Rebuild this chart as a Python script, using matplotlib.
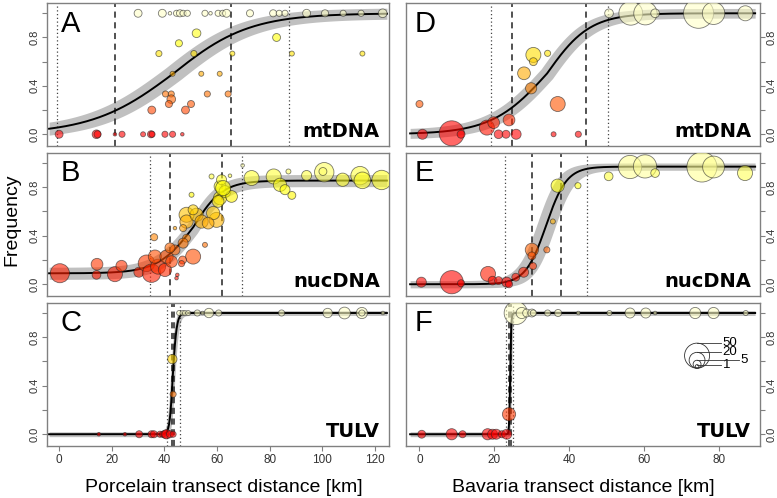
import numpy as np
import matplotlib.pyplot as plt
from matplotlib.colors import hsv_to_rgb

# ---- panel A: Porcelain, mtDNA ----
a_x = [30.0, 39.2, 42.1, 44.6, 45.9, 47.1, 48.7, 55.4, 57.5, 60.4, 62.1, 63.6, 72.5,
       81.3, 83.6, 85.8, 94.0, 101.0, 107.9, 114.7, 122.9,
       52.2, 82.6, 45.5, 37.9, 51.2, 65.8, 88.4, 115.2, 43.1, 54.0, 61.0,
       40.4, 42.6, 56.3, 64.2, 42.6, 41.7, 50.1, 35.2, 48.0,
       0.0, 14.2, 14.6, 21.2, 23.9, 31.9, 34.9, 35.3, 40.2, 43.1, 46.8]
a_y = [1.0] * 21 + [0.835, 0.80, 0.752, 0.667, 0.667, 0.667, 0.667, 0.667, 0.5, 0.5, 0.5,
                    0.333, 0.333, 0.333, 0.333, 0.29, 0.25, 0.25, 0.2, 0.2] + [0.0] * 11
a_n = [5, 5, 1, 3, 4, 3, 3, 3, 1, 3, 3, 5, 4, 4, 3, 3, 5, 4, 3, 3, 6,
       6, 5, 4, 3, 3, 2, 2, 2, 2, 2, 2, 3, 3, 3, 3, 6, 4, 4, 5, 5,
       5, 6, 4, 1, 3, 2, 4, 3, 3, 3, 1]

# ---- panel B: Porcelain, nucDNA ----
b_x = [0.3, 14.4, 14.2, 21.2, 23.7, 30.3, 36.1, 33.2, 35.1, 37.6, 36.4, 40.2, 40.8, 42.7,
       44.0, 42.1, 44.9, 44.6, 48.4, 50.9, 55.4, 46.9, 47.1, 46.5, 48.4, 48.4, 52.2, 50.9,
       54.1, 59.8, 58.5, 56.6, 47.1, 44.0, 50.3, 61.1, 61.1, 63.0, 65.5, 61.7, 57.9,
       64.9, 62.3, 60.4, 73.1, 69.7, 81.5, 83.9, 85.8, 88.4, 87.1, 94.0, 100.7, 100.2,
       107.7, 114.3, 115.2, 122.5]
b_y = [0.091, 0.165, 0.077, 0.083, 0.151, 0.099, 0.388, 0.173, 0.091, 0.145, 0.228, 0.118,
       0.228, 0.187, 0.283, 0.30, 0.077, 0.05, 0.38, 0.228, 0.325, 0.20, 0.339, 0.17, 0.573,
       0.517, 0.573, 0.614, 0.517, 0.531, 0.587, 0.504, 0.463, 0.463, 0.738, 0.71, 0.807,
       0.765, 0.724, 0.862, 0.889, 0.895, 0.793, 0.683, 0.876, 0.98, 0.889, 0.82, 0.78,
       0.733, 0.93, 0.897, 0.924, 0.93, 0.862, 0.896, 0.857, 0.86]
b_n = [29, 11, 6, 18, 10, 8, 4, 22, 27, 18, 14, 14, 14, 11, 8, 8, 1, 1, 5, 18, 2, 5, 8, 3,
       18, 14, 14, 8, 14, 18, 14, 11, 4, 1, 2, 14, 11, 11, 11, 8, 2, 1, 18, 11, 18, 1,
       18, 14, 8, 5, 2, 8, 30, 5, 14, 27, 22, 30]

# ---- panel C: Porcelain, TULV ----
c_x = [15.1, 25.0, 30.4, 35.1, 36.0, 38.3, 39.3, 40.2, 40.8, 42.1, 43.3, 43.0, 43.3,
       45.6, 46.9, 47.8, 49.0, 52.5, 54.5, 56.9, 60.6, 84.5, 102.0, 108.4, 115.0, 115.0, 123.0]
c_y = [0.0] * 11 + [0.62, 0.33] + [1.0] * 14
c_n = [1, 1, 4, 4, 4, 3, 3, 5, 7, 4, 3, 7, 3, 2, 2, 2, 2, 3, 1, 7, 3, 3, 7, 11, 10, 3, 1]

# ---- panel D: Bavaria, mtDNA ----
d_x = [0.8, 0.0, 8.6, 11.1, 18.0, 19.8, 21.1, 23.1, 23.9, 25.8, 29.8, 27.9, 30.4, 30.4,
       34.2, 36.9, 35.8, 42.4, 50.6, 56.4, 60.3, 62.9, 74.5, 78.5, 87.0]
d_y = [0.0, 0.25, 0.008, 0.0, 0.055, 0.096, 0.0, 0.0, 0.118, 0.0, 0.38, 0.504, 0.656, 0.6,
       0.669, 0.25, 0.0, 0.0, 1.0, 1.0, 1.0, 1.0, 1.0, 1.0, 1.0]
d_n = [8, 4, 50, 5, 18, 11, 6, 5, 11, 8, 10, 13, 18, 5, 3, 18, 2, 3, 6, 45, 43, 6, 72, 40, 18]

# ---- panel E: Bavaria, nucDNA ----
e_x = [0.5, 8.6, 11.1, 18.3, 19.5, 21.1, 23.3, 23.9, 25.7, 27.8, 30.3, 30.0, 30.0, 34.0,
       35.6, 36.9, 42.3, 50.5, 56.2, 60.2, 62.9, 75.4, 78.5, 86.9]
e_y = [0.017, 0.017, 0.008, 0.085, 0.03, 0.03, 0.017, 0.0, 0.058, 0.099, 0.15, 0.284, 0.234,
       0.284, 0.518, 0.813, 0.813, 0.89, 0.967, 0.972, 0.917, 0.967, 0.967, 0.917]
e_n = [8, 43, 4, 18, 6, 5, 8, 4, 5, 8, 4, 14, 5, 3, 2, 14, 3, 6, 43, 43, 6, 72, 38, 18]

# ---- panel F: Bavaria, TULV ----
f_x = [0.6, 8.6, 11.5, 18.2, 19.5, 20.5, 22.0, 23.3, 23.9,
       25.7, 27.3, 28.6, 30.0, 30.4, 34.2, 37.0, 42.4, 50.7, 56.2, 60.4, 62.9, 73.6, 78.5, 87.1]
f_y = [0.0] * 8 + [0.165] + [1.0] * 15
f_n = [5, 10, 4, 10, 8, 8, 4, 8, 14, 43, 10, 5, 5, 3, 3, 4, 1, 2, 8, 8, 1, 10, 10, 2]

# cline fits: centre, left width, right width, min, max
clines = {
    'A': (43.3, 62.0, 58.0, 0.0, 1.0),
    'B': (51.0, 27.0, 22.0, 0.09, 0.855),
    'C': (43.2, 2.4, 3.0, 0.0, 1.0),
    'D': (34.0, 29.5, 23.0, 0.0, 1.0),
    'E': (33.8, 11.0, 11.0, 0.0, 0.97),
    'F': (24.2, 0.5, 0.6, 0.0, 1.0),
}
# band: centre uncertainty, vertical half-width
bands = {'A': (3.0, 0.045), 'B': (1.5, 0.05), 'C': (0.8, 0.02),
         'D': (1.5, 0.04), 'E': (2.2, 0.03), 'F': (0.4, 0.02)}
dashed = {'A': [21.3, 65.2], 'B': [42.3, 61.7], 'C': [42.8, 43.8],
          'D': [24.8, 44.5], 'E': [30.0, 37.7], 'F': [24.0, 24.4]}
dotted = {'A': [-0.9, 87.2], 'B': [34.7, 69.6], 'C': [40.9, 46.1],
          'D': [19.1, 50.3], 'E': [22.7, 44.8], 'F': [23.0, 25.0]}
markers = {'A': 'mtDNA', 'B': 'nucDNA', 'C': 'TULV', 'D': 'mtDNA', 'E': 'nucDNA', 'F': 'TULV'}
points = {'A': (a_x, a_y, a_n), 'B': (b_x, b_y, b_n), 'C': (c_x, c_y, c_n),
          'D': (d_x, d_y, d_n), 'E': (e_x, e_y, e_n), 'F': (f_x, f_y, f_n)}

legend_n = [50, 20, 5, 1]

DPI = 100


def cline(x, c, wl, wr, pmin, pmax):
    w = np.where(x < c, wl, wr)
    return pmin + (pmax - pmin) * (1 + np.tanh(2 * (x - c) / w)) / 2


def heat(f):
    if f < 0.75:
        h, s = f / 0.75 / 6, 1.0
    else:
        h, s = 1 / 6, 1 - ((f - 0.75) / 0.25) ** 2 * 0.78
    return hsv_to_rgb((h, s, 1.0))


def diam_pt(n):
    return 3.54 * np.sqrt(np.asarray(n, float)) * 72 / DPI


fig = plt.figure(figsize=(7.77, 4.98), dpi=DPI)
plt.rcParams['font.family'] = ['Liberation Sans', 'DejaVu Sans']

col_x = [(47, 389), (406, 760)]
row_y = [(3, 146), (152.7, 296), (302.7, 446)]
xlims = [(-4.6, 125.3), (-3.6, 90.9)]
curve_x = [(-3.8, 124.5), (-2.5, 89.6)]
ylim = (-0.097, 1.085)
grey = '#808080'

for ci, letters in enumerate(['ABC', 'DEF']):
    for ri, L in enumerate(letters):
        x0, x1 = col_x[ci]
        y0, y1 = row_y[ri]
        ax = fig.add_axes([x0 / 777, 1 - y1 / 498, (x1 - x0) / 777, (y1 - y0) / 498])
        ax.set_xlim(*xlims[ci])
        ax.set_ylim(*ylim)

        xs = np.linspace(*curve_x[ci], 1500)
        c, wl, wr, pmin, pmax = clines[L]
        dc, dy = bands[L]
        ca = cline(xs, c - dc, wl, wr, pmin, pmax)
        cb = cline(xs, c + dc, wl, wr, pmin, pmax)
        ax.fill_between(xs, np.minimum(ca, cb) - dy, np.maximum(ca, cb) + dy,
                        color='#c0c0c0', lw=0, zorder=1)
        for v in dashed[L]:
            ax.axvline(v, color='#222222', ls=(0, (4, 3)), lw=1.1, zorder=2)
        for v in dotted[L]:
            ax.axvline(v, color='#444444', ls=(0, (1, 2)), lw=0.9, zorder=2)
        ax.plot(xs, cline(xs, c, wl, wr, pmin, pmax), color='black', lw=1.4, zorder=3)

        px, py, pn = points[L]
        cols = [heat(v) for v in py]
        ax.scatter(px, py, s=diam_pt(pn) ** 2, c=cols, alpha=0.6,
                   edgecolors='#222222', linewidths=0.6, zorder=4)

        ax.text(0.04 if ci == 0 else 0.025, 0.80, L, transform=ax.transAxes,
                fontsize=21, va='baseline', ha='left')
        ax.text(1 - 9 / (x1 - x0), 0.063, markers[L], transform=ax.transAxes,
                fontsize=14, fontweight='bold', family='DejaVu Sans',
                va='baseline', ha='right')

        for sp in ax.spines.values():
            sp.set_color(grey)
            sp.set_linewidth(1.0)
        ax.set_yticks([0, 0.2, 0.4, 0.6, 0.8, 1.0])
        ax.set_yticklabels(['0.0', '', '0.4', '', '0.8', ''], rotation=90, va='center')
        ax.tick_params(axis='y', direction='out', length=3.5, color=grey,
                       labelsize=8, labelcolor='#333333', pad=2)
        if ci == 1:
            ax.yaxis.tick_right()
            ax.tick_params(axis='y', direction='out', length=3.5, color=grey, pad=1)
        if ri == 2:
            ax.set_xticks(np.arange(0, xlims[ci][1], 20))
            ax.tick_params(axis='x', direction='out', length=3.5, color=grey,
                           labelsize=8.5, labelcolor='#333333', pad=2)
        else:
            ax.tick_params(axis='x', bottom=False, labelbottom=False)

        if L == 'F':
            # size legend: nested circles sharing a bottom point
            ppu = (y1 - y0) / (ylim[1] - ylim[0])
            lx, lb = 74.1, 0.545
            for n in legend_n:
                dpx = 3.54 * np.sqrt(n)
                ax.scatter([lx], [lb + dpx / 2 / ppu], s=diam_pt(n) ** 2,
                           facecolors='none', edgecolors='#333333', linewidths=0.6, zorder=5)
                top = lb + dpx / ppu
                xe = 85.3 if n == 5 else 80.6
                ax.plot([lx, xe], [top, top], color='#333333', lw=0.6, zorder=5)
                ax.text(xe + 0.3, top, str(n), fontsize=9.5, va='center', ha='left')

fig.text(224 / 777, 1 - 487 / 498, 'Porcelain transect distance [km]',
         fontsize=14, ha='center', va='center')
fig.text(583 / 777, 1 - 487 / 498, 'Bavaria transect distance [km]',
         fontsize=14, ha='center', va='center')
fig.text(12 / 777, 1 - 220 / 498, 'Frequency', fontsize=14, rotation=90,
         ha='center', va='center')

fig.savefig('out.png', dpi=DPI)
